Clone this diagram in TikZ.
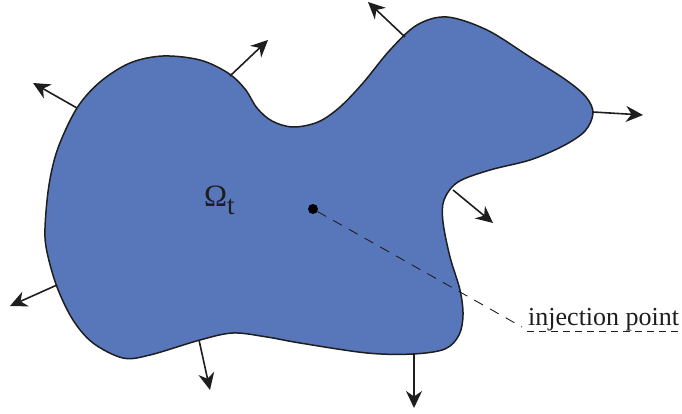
\documentclass[tikz,border=0pt]{standalone}
\usepackage{fontspec}
\setmainfont{Liberation Serif}
\usetikzlibrary{arrows.meta}
\definecolor{blobblue}{RGB}{88,119,187}
\definecolor{inkblack}{RGB}{30,30,30}
\tikzset{
  blob/.style={draw=inkblack, line width=1.5pt, fill=blobblue},
  normalarrow/.style={draw=inkblack, line width=1.6pt, -{Stealth[length=17pt,width=16pt,inset=5.5pt]}},
  leader/.style={draw=inkblack, line width=0.9pt, dash pattern=on 10pt off 8pt},
  underl/.style={draw=inkblack, line width=0.9pt, dash pattern=on 7pt off 5pt},
}
\begin{document}
\begin{tikzpicture}[x=1pt,y=-1pt]
\useasboundingbox (0,0) rectangle (682,414);
\path[blob] plot[smooth cycle, tension=0.55] coordinates {
(45,228) (49,185) (58,148) (77,108) (100,82) (130,63) (163,56) (200,60) (228,73) (245,89) (257,108) (272,121) (293,127) (318,122) (340,107) (363,83) (390,50) (417,25) (447,17) (487,30) (530,57) (566,80) (586,97) (593,113) (585,131) (563,146) (530,160) (490,170) (458,182) (444,200) (443,222) (450,257) (460,290) (463,315) (459,335) (445,349) (413,354) (367,353) (300,343) (267,337) (233,333) (200,340) (150,355) (123,358) (93,343) (73,320) (57,287) (47,252)};
% arrow start points on boundary
\coordinate (s1) at (405,37);  \coordinate (e1) at (368,2);
\coordinate (s2) at (230,76);  \coordinate (e2) at (268,40);
\coordinate (s3) at (77,108);  \coordinate (e3) at (33,83);
\coordinate (s4) at (593,112); \coordinate (e4) at (643,115);
\coordinate (s5) at (453,190); \coordinate (e5) at (493,223);
\coordinate (s6) at (57,285);  \coordinate (e6) at (10,306);
\coordinate (s7) at (199,340); \coordinate (e7) at (210,390);
\coordinate (s8) at (414,354); \coordinate (e8) at (414,408);
\foreach \i in {1,...,8} { \draw[normalarrow] (s\i) -- (e\i); }
% injection point
\node[circle, fill=black, inner sep=0pt, minimum size=10pt] (dot) at (313,209) {};
\coordinate (lend) at (522,327);
\draw[leader] (dot) -- (lend);
\node[anchor=base west, inner sep=0pt, font=\fontsize{26}{30}\selectfont, text=inkblack] (lbl) at (528,325) {injection point};
\coordinate (u1) at (527,331);
\coordinate (u2) at (681,331);
\draw[underl] (u1) -- (u2);
% region label
\node[anchor=base west, inner sep=0pt, text=inkblack] (omega) at (204,207) {\fontsize{31}{34}\selectfont Ω\raisebox{-8pt}{\fontsize{27}{30}\selectfont t}};
\end{tikzpicture}
\end{document}
